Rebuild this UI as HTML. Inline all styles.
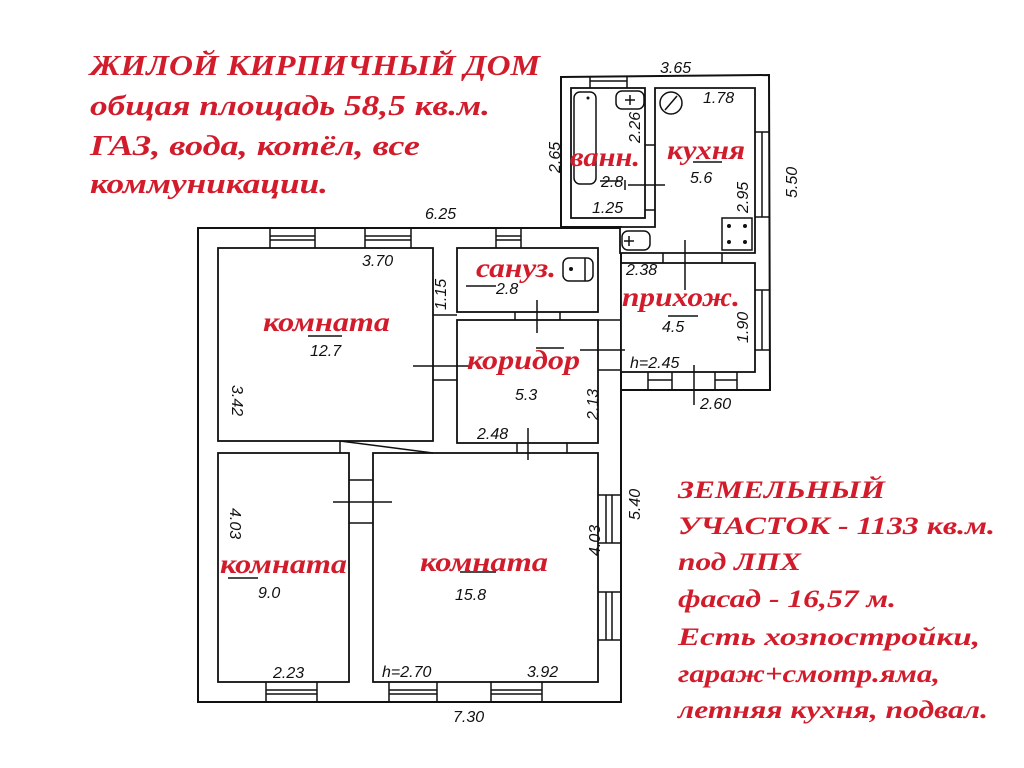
<!DOCTYPE html>
<html><head><meta charset="utf-8"><style>
html,body{margin:0;padding:0;background:#fff;}
svg{display:block}
.r{font-family:"Liberation Serif",serif;font-weight:bold;font-style:italic;fill:#d21c2c;}
.n{font-family:"Liberation Sans",sans-serif;font-style:italic;fill:#111;font-size:16px;}
</style></head><body>
<svg width="1024" height="768" viewBox="0 0 1024 768" xmlns="http://www.w3.org/2000/svg">
<rect width="1024" height="768" fill="#fff"/>
<g fill="#fff" stroke="#111" stroke-width="2">
<polygon points="561,77 769,75 770,390 621,390 621,227 561,227"/>
<rect x="198" y="228" width="423" height="474"/>
</g>
<g fill="#fff" stroke="#111" stroke-width="1.8">
<rect x="571" y="88" width="74" height="130"/>
<polygon points="655,88 755,88 755,253 620,253 620,227 655,227"/>
<rect x="621" y="263" width="134" height="109"/>
<rect x="218" y="248" width="215" height="193"/>
<rect x="457" y="248" width="141" height="64"/>
<rect x="457" y="320" width="141" height="123"/>
<rect x="218" y="453" width="131" height="229"/>
<rect x="373" y="453" width="225" height="229"/>
</g>
<g stroke="#111" stroke-width="1.5" fill="none">
<path d="M270,228V248M315,228V248M270,236H315M270,240H315"/>
<path d="M365,228V248M411,228V248M365,236H411M365,240H411"/>
<path d="M496,228V248M521,228V248M496,236H521M496,240H521"/>
<path d="M266,682V702M317,682V702M266,690H317M266,694H317"/>
<path d="M389,682V702M437,682V702M389,690H437M389,694H437"/>
<path d="M491,682V702M542,682V702M491,690H542M491,694H542"/>
<path d="M598,495H621M598,543H621M606,495V543M612,495V543"/>
<path d="M598,592H621M598,640H621M606,592V640M612,592V640"/>
<path d="M590,77V88M627,77V88M590,81H627"/>
<path d="M755,132H769M755,217H769M762,132V217"/>
<path d="M755,290H769M755,350H769M762,290V350"/>
<path d="M648,372V390M672,372V390M648,380H672"/>
<path d="M715,372V390M737,372V390M715,380H737"/>
<path d="M433,315H457M433,380H457"/>
<path d="M340,441L433,453M340,441V453"/>
<path d="M349,480H373M349,523H373"/>
<path d="M515,312V320M560,312V320"/>
<path d="M517,443V453M567,443V453"/>
<path d="M598,320H621M598,370H621"/>
<path d="M645,145H655M645,210H655"/>
<path d="M663,253V263M722,253V263"/>
<path d="M413,366H470"/>
<path d="M537,300V333"/>
<path d="M580,350H625"/>
<path d="M528,428V460"/>
<path d="M333,502H392"/>
<path d="M625,180V190M628,185H665"/>
<path d="M685,240V290"/>
<path d="M694,365V405"/>
<rect x="574" y="92" width="22" height="92" rx="6"/>
<rect x="616" y="91" width="28" height="18" rx="6"/>
<path d="M630,95V105M625,100H635"/>
<circle cx="671" cy="103" r="11"/><path d="M665,110L677,96"/>
<rect x="722" y="218" width="30" height="32"/>
<rect x="622" y="231" width="28" height="19" rx="6"/>
<path d="M629,236V246M624,241H634"/>
<rect x="563" y="258" width="30" height="23" rx="6"/>
<path d="M585,258V281"/>
<path d="M308,336H342M466,286H496M536,348H564M228,578H258M460,572H496M600,181H620M693,162H722M668,316H698"/>
</g>
<g fill="#111"><circle cx="729" cy="226" r="2"/><circle cx="745" cy="226" r="2"/><circle cx="729" cy="242" r="2"/><circle cx="745" cy="242" r="2"/><circle cx="571" cy="269" r="2"/><circle cx="588" cy="98" r="1.5"/></g>
<g class="n">
<text x="660" y="73">3.65</text>
<text x="703" y="103">1.78</text>
<text x="601" y="187">2.8</text>
<text x="592" y="213">1.25</text>
<text x="690" y="183">5.6</text>
<text x="626" y="275">2.38</text>
<text x="662" y="332">4.5</text>
<text x="630" y="368">h=2.45</text>
<text x="700" y="409">2.60</text>
<text x="425" y="219">6.25</text>
<text x="362" y="266">3.70</text>
<text x="310" y="356">12.7</text>
<text x="496" y="294">2.8</text>
<text x="515" y="400">5.3</text>
<text x="477" y="439">2.48</text>
<text x="258" y="598">9.0</text>
<text x="455" y="600">15.8</text>
<text x="273" y="678">2.23</text>
<text x="382" y="677">h=2.70</text>
<text x="527" y="677">3.92</text>
<text x="453" y="722">7.30</text>
<text transform="translate(560,173) rotate(-90)">2.65</text>
<text transform="translate(640,143) rotate(-90)">2.26</text>
<text transform="translate(748,213) rotate(-90)">2.95</text>
<text transform="translate(797,198) rotate(-90)">5.50</text>
<text transform="translate(748,343) rotate(-90)">1.90</text>
<text transform="translate(232,385) rotate(90)">3.42</text>
<text transform="translate(446,310) rotate(-90)">1.15</text>
<text transform="translate(598,420) rotate(-90)">2.13</text>
<text transform="translate(230,508) rotate(90)">4.03</text>
<text transform="translate(600,556) rotate(-90)">4.03</text>
<text transform="translate(640,520) rotate(-90)">5.40</text>
</g>
<g class="r" font-size="27">
<text x="263" y="331" textLength="127" lengthAdjust="spacingAndGlyphs">комната</text>
<text x="570" y="166" textLength="70" lengthAdjust="spacingAndGlyphs">ванн.</text>
<text x="667" y="159" textLength="78" lengthAdjust="spacingAndGlyphs">кухня</text>
<text x="476" y="277" textLength="80" lengthAdjust="spacingAndGlyphs">сануз.</text>
<text x="622" y="306" textLength="118" lengthAdjust="spacingAndGlyphs">прихож.</text>
<text x="467" y="369" textLength="113" lengthAdjust="spacingAndGlyphs">коридор</text>
<text x="220" y="573" textLength="127" lengthAdjust="spacingAndGlyphs">комната</text>
<text x="420" y="571" textLength="128" lengthAdjust="spacingAndGlyphs">комната</text>
</g>
<g class="r" font-size="28">
<text x="90" y="75" textLength="450" lengthAdjust="spacingAndGlyphs">ЖИЛОЙ  КИРПИЧНЫЙ  ДОМ</text>
<text x="90" y="115" textLength="400" lengthAdjust="spacingAndGlyphs">общая площадь 58,5 кв.м.</text>
<text x="90" y="155" textLength="330" lengthAdjust="spacingAndGlyphs">ГАЗ, вода, котёл, все</text>
<text x="90" y="193" textLength="238" lengthAdjust="spacingAndGlyphs">коммуникации.</text>
</g>
<g class="r" font-size="25">
<text x="678" y="498" textLength="207" lengthAdjust="spacingAndGlyphs">ЗЕМЕЛЬНЫЙ</text>
<text x="678" y="534" textLength="317" lengthAdjust="spacingAndGlyphs">УЧАСТОК - 1133 кв.м.</text>
<text x="678" y="570" textLength="123" lengthAdjust="spacingAndGlyphs">под ЛПХ</text>
<text x="678" y="607" textLength="218" lengthAdjust="spacingAndGlyphs">фасад - 16,57 м.</text>
<text x="678" y="645" textLength="302" lengthAdjust="spacingAndGlyphs">Есть хозпостройки,</text>
<text x="678" y="682" textLength="262" lengthAdjust="spacingAndGlyphs">гараж+смотр.яма,</text>
<text x="678" y="718" textLength="310" lengthAdjust="spacingAndGlyphs">летняя кухня, подвал.</text>
</g>
</svg>
</body></html>
